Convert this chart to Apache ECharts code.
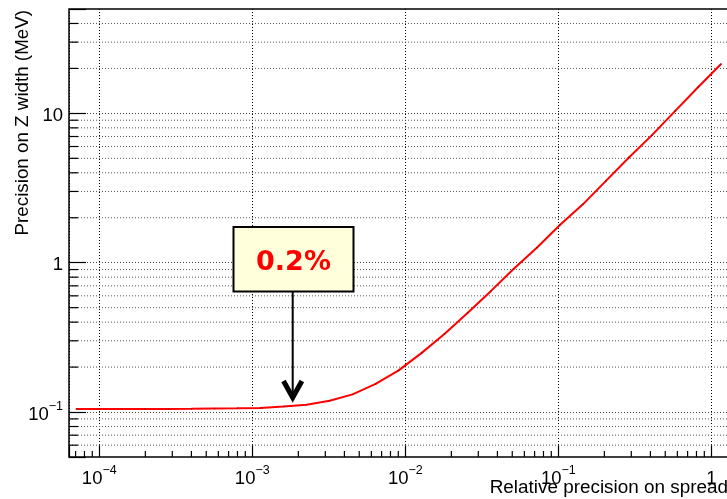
<!DOCTYPE html>
<html><head><meta charset="utf-8">
<script src="https://cdn.jsdelivr.net/npm/echarts@6/dist/echarts.min.js"></script>
<style>html,body{margin:0;padding:0;background:#fff}#c{width:727px;height:499px}</style>
</head><body><div id="c"></div>
<script>
// Relative precision on spread (x) and precision on Z width in MeV (y)
const spreadPrecision = [7.07e-5, 1.0e-4, 1.414e-4, 2.0e-4, 2.83e-4, 4.0e-4, 5.66e-4, 8.0e-4,
  1.131e-3, 1.6e-3, 2.263e-3, 3.2e-3, 4.525e-3, 6.4e-3, 9.05e-3, 1.28e-2, 1.81e-2, 2.56e-2,
  3.62e-2, 5.12e-2, 7.24e-2, 0.1024, 0.1448, 0.2048, 0.2896, 0.4096, 0.5793, 0.8192, 1.158];
const zWidthPrecision = [0.1047, 0.1047, 0.1048, 0.1049, 0.1050, 0.1052, 0.1055, 0.1059,
  0.1066, 0.1090, 0.1119, 0.1191, 0.1313, 0.1542, 0.190, 0.249, 0.334, 0.462,
  0.645, 0.911, 1.261, 1.79, 2.46, 3.53, 5.07, 7.15, 10.36, 14.95, 21.4];
const xMinorTicks = [7e-5, 8e-5, 9e-5,
  2e-4, 3e-4, 4e-4, 5e-4, 6e-4, 7e-4, 8e-4, 9e-4,
  2e-3, 3e-3, 4e-3, 5e-3, 6e-3, 7e-3, 8e-3, 9e-3,
  2e-2, 3e-2, 4e-2, 5e-2, 6e-2, 7e-2, 8e-2, 9e-2,
  0.2, 0.3, 0.4, 0.5, 0.6, 0.7, 0.8, 0.9];
const yMinorTicks = [0.06, 0.07, 0.08, 0.09,
  0.2, 0.3, 0.4, 0.5, 0.6, 0.7, 0.8, 0.9,
  2, 3, 4, 5, 6, 7, 8, 9,
  20, 30, 40];
const xTitle = 'Relative precision on spread';
const yTitle = 'Precision on Z width (MeV)';
const annotationText = '0.2%';

const X_MIN = 6.34e-5, X_MAX = 1.472, Y_MIN = 0.05, Y_MAX = 50;
const FONT = 'Liberation Sans, Arial, Helvetica, sans-serif';

function powLabel(v) {
  const e = Math.log10(v), r = Math.round(e);
  if (Math.abs(e - r) > 1e-6) return '';
  if (r === 0) return '{b|1}';
  if (r === 1) return '{b|10}';
  return '{b|10}{s|' + (r < 0 ? '\u2212' : '') + Math.abs(r) + '}';
}
const rich = {
  b: {fontSize: 18.5, fontFamily: FONT, color: '#000', lineHeight: 24, verticalAlign: 'bottom'},
  s: {fontSize: 12.5, fontFamily: FONT, color: '#000', lineHeight: 12, verticalAlign: 'top'}
};

const chart = echarts.init(document.getElementById('c'), null, {renderer: 'canvas'});
chart.setOption({
  animation: false,
  backgroundColor: '#fff',
  grid: {left: 69, top: 9, width: 668, height: 448, show: true, borderColor: '#000', borderWidth: 1.5,
         backgroundColor: 'transparent', containLabel: false, outerBoundsMode: 'none'},
  xAxis: {
    type: 'log', logBase: 10, min: X_MIN, max: X_MAX,
    axisLine: {show: false},
    axisTick: {show: true, inside: true, length: 12, lineStyle: {color: '#000', width: 1.2}},
    axisLabel: {formatter: powLabel, rich: rich, margin: 7, showMinLabel: true, showMaxLabel: true, hideOverlap: false},
    splitLine: {show: true, lineStyle: {color: '#000', width: 1, type: [1, 2]}},
    minorTick: {show: false}, minorSplitLine: {show: false}
  },
  yAxis: {
    type: 'log', logBase: 10, min: Y_MIN, max: Y_MAX,
    axisLine: {show: false},
    axisTick: {show: true, inside: true, length: 17, lineStyle: {color: '#000', width: 1.2}},
    axisLabel: {formatter: powLabel, rich: rich, margin: 6, hideOverlap: false},
    splitLine: {show: true, lineStyle: {color: '#444', width: 1, type: [1, 2]}},
    minorTick: {show: false}, minorSplitLine: {show: false}
  },
  series: [
    {
      type: 'custom', z: 1, silent: true,
      data: yMinorTicks.map(v => [1e-3, v]),
      renderItem(params, api) {
        const cs = params.coordSys;
        const y = api.coord([api.value(0), api.value(1)])[1];
        return {type: 'group', children: [
          {type: 'line', shape: {x1: cs.x, y1: y, x2: cs.x + cs.width, y2: y},
           style: {stroke: '#555', lineWidth: 1, lineDash: [1, 2]}},
          {type: 'line', shape: {x1: cs.x, y1: y, x2: cs.x + 9, y2: y},
           style: {stroke: '#000', lineWidth: 1.2}}
        ]};
      }
    },
    {
      type: 'custom', z: 1, silent: true,
      data: xMinorTicks.map(v => [v, 1]),
      renderItem(params, api) {
        const cs = params.coordSys;
        const x = api.coord([api.value(0), api.value(1)])[0];
        const yb = cs.y + cs.height;
        return {type: 'line', shape: {x1: x, y1: yb, x2: x, y2: yb - 6},
                style: {stroke: '#000', lineWidth: 1.2}};
      }
    },
    {
      type: 'line', z: 3,
      data: spreadPrecision.map((x, i) => [x, zWidthPrecision[i]]),
      showSymbol: true, symbol: 'circle', symbolSize: 1.5,
      itemStyle: {color: '#800000', borderWidth: 0},
      lineStyle: {color: '#ff0000', width: 2},
      smooth: false
    }
  ],
  graphic: [
    {type: 'text', x: 728, y: 487.5, z: 10,
     style: {text: xTitle, font: '18.9px ' + FONT, fill: '#000', align: 'right', verticalAlign: 'middle'}},
    {type: 'text', x: 22.5, y: 10, rotation: Math.PI / 2, z: 10,
     style: {text: yTitle, font: '18.8px ' + FONT, fill: '#000', align: 'right', verticalAlign: 'middle'}},
    {type: 'line', z: 10, shape: {x1: 292.7, y1: 292, x2: 292.7, y2: 398},
     style: {stroke: '#000', lineWidth: 2}},
    {type: 'polyline', z: 10, shape: {points: [[283.5, 381], [292.7, 397.5], [301.9, 381]]},
     style: {stroke: '#000', lineWidth: 5, fill: null, lineJoin: 'miter', lineCap: 'butt'}},
    {type: 'rect', z: 10, shape: {x: 233.5, y: 227, width: 120, height: 64.5},
     style: {fill: '#ffffdc', stroke: '#000', lineWidth: 2}},
    {type: 'text', z: 11, x: 293.5, y: 263,
     style: {text: annotationText, font: 'bold 27px DejaVu Sans, sans-serif', fill: '#ff0000',
             align: 'center', verticalAlign: 'middle'}}
  ]
});
</script>
</body></html>
